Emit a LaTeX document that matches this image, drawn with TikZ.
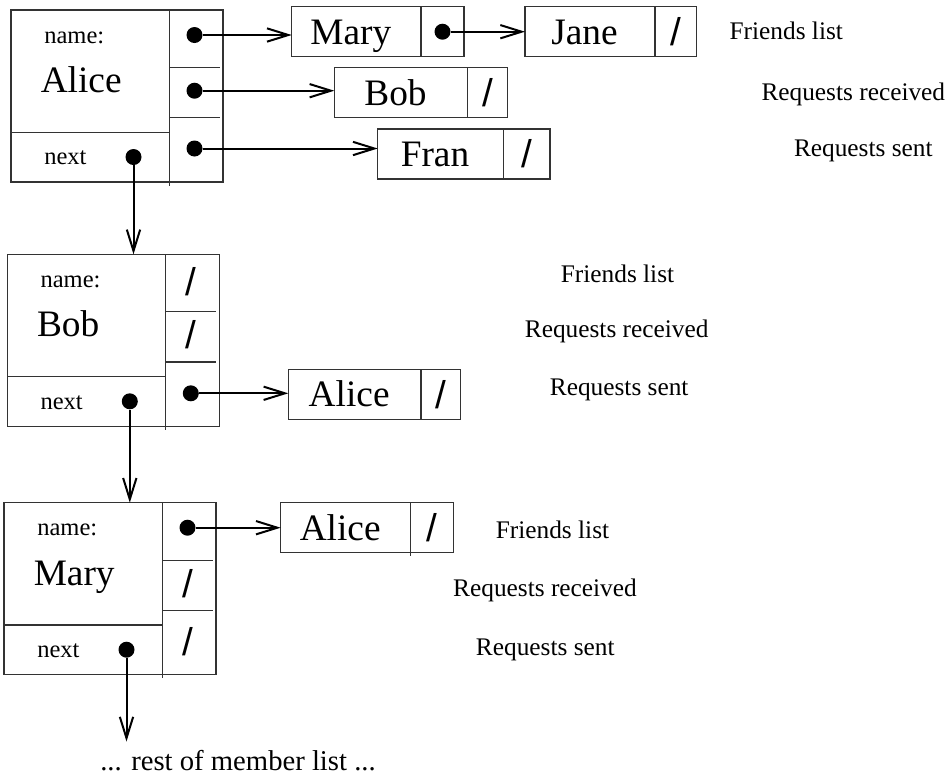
\documentclass[tikz,border=0pt]{standalone}
\usepackage{fontspec}
\setmainfont{Liberation Serif}
\newfontfamily\slashfam{Liberation Sans}
\usetikzlibrary{arrows.meta,calc,fit}
\newcommand\bigfnt{\fontsize{28}{30}\selectfont}
\newcommand\smallfnt{\fontsize{18.4}{20}\selectfont}
\newcommand\labfnt{\fontsize{19}{21}\selectfont}
\newcommand\restfnt{\fontsize{21.5}{23}\selectfont}
\newcommand\slashfnt{\slashfam\fontsize{29}{30}\selectfont}
\tikzset{
  boxline/.style={draw=black!80, line width=0.8pt},
  ptr/.style={line width=1.5pt, -{Straight Barb[length=16pt,width=10pt]}},
  dotn/.style={circle, fill=black, inner sep=0pt, minimum size=12pt},
  slashn/.style={font=\slashfnt, inner sep=0pt},
  bigtxt/.style={font=\bigfnt, inner sep=0pt, anchor=base},
  smalltxt/.style={font=\smallfnt, inner sep=0pt, anchor=base west},
  labtxt/.style={font=\labfnt, inner sep=0pt, anchor=base},
}
% member record frame (coordinates relative to its top-left corner)
\newcommand\memberframe[2]{%
  \node[boxline, rectangle, inner sep=0pt, outer sep=0pt, anchor=north west,
        minimum width=159pt, minimum height=129pt] (#1) at (0,0) {};
  \draw[boxline] (158.4,0) -- (158.4,175.5);
  \draw[boxline] (0,122.3) -- (158.4,122.3);
  \draw[boxline] (158.4,57.5) -- (208.5,57.5);
  \draw[boxline] (158.4,107.7) -- (208.5,107.7);
  \node[smalltxt] (#1-nm) at (33,33) {name:};
  \node[bigtxt, anchor=base west] (#1-name) at (29.5,82.5) {#2};
  \node[smalltxt] (#1-nt) at (33,154.7) {next};
  \node[dotn] (#1-nx) at (122.5,147) {};
}
% list cell: #1 name, #2 left, #3 top, #4 divider, #5 right, #6 text
\newcommand\listcell[6]{%
  \node[boxline, inner sep=0pt, outer sep=0pt, fit={(#2,#3) (#5,#3+50)}] (#1) {};
  \draw[boxline] (#4,#3) -- (#4,#3+50);
  \node[bigtxt] (#1-t) at ({(#2+#4)/2-5.5},#3+37.5) {#6};
  \coordinate (#1-c) at ({(#4+#5)/2},#3+25);
}
\begin{document}
\begin{tikzpicture}[x=0.75pt,y=-0.75pt]
\useasboundingbox (0,0) rectangle (949,776);

% ---- Alice ----
\begin{scope}[shift={(11,10)}]
  \memberframe{alice}{Alice}
  \node[dotn] (alice-p1) at (183.5,25) {};
  \node[dotn] (alice-p2) at (183.5,80.7) {};
  \node[dotn] (alice-p3) at (183.5,138.5) {};
\end{scope}
% ---- Bob ----
\begin{scope}[shift={(7.3,254.3)}]
  \memberframe{bob}{Bob}
  \node[slashn] (bob-s1) at (183.5,27.5) {/};
  \node[slashn] (bob-s2) at (183.5,80.5) {/};
  \node[dotn] (bob-p3) at (183.5,139) {};
\end{scope}
% ---- Mary ----
\begin{scope}[shift={(4,502.7)}]
  \memberframe{mary}{Mary}
  \node[dotn] (mary-p1) at (183.5,25) {};
  \node[slashn] (mary-s2) at (183.5,80.5) {/};
  \node[slashn] (mary-s3) at (183.5,139) {/};
\end{scope}

% ---- list cells ----
\listcell{lmary}{291.7}{6.7}{421}{464}{Mary}
\node[dotn] (lmary-d) at (lmary-c) {};
\listcell{ljane}{525}{6.7}{655}{696.7}{Jane}
\node[slashn] (ljane-s) at (ljane-c) {/};
\listcell{lbob}{334.3}{67.7}{467.7}{507.3}{Bob}
\node[slashn] (lbob-s) at (lbob-c) {/};
\listcell{lfran}{377.7}{129}{503.3}{550}{Fran}
\node[slashn] (lfran-s) at (lfran-c) {/};
\listcell{lalicea}{288.3}{369.3}{421}{460.7}{Alice}
\node[slashn] (lalicea-s) at (lalicea-c) {/};
\listcell{laliceb}{280.7}{502.7}{410.7}{453.3}{Alice}
\node[slashn] (laliceb-s) at (laliceb-c) {/};
\draw[boxline] (410.7,552.3) -- (410.7,556);

% ---- labels ----
\node[labtxt] (la1) at (786.3,39.3) {Friends list};
\node[labtxt] (la2) at (853.3,100) {Requests received};
\node[labtxt] (la3) at (863.3,156.7) {Requests sent};
\node[labtxt] (lb1) at (617.5,282.7) {Friends list};
\node[labtxt] (lb2) at (616.7,337.3) {Requests received};
\node[labtxt] (lb3) at (619.2,395) {Requests sent};
\node[labtxt] (lc1) at (552.5,538.3) {Friends list};
\node[labtxt] (lc2) at (545,596.7) {Requests received};
\node[labtxt] (lc3) at (545.3,655) {Requests sent};

\node[font=\restfnt, inner sep=0pt, anchor=base] (rest) at (238,770) {... rest of member list ...};
\coordinate (restend) at (126.7,741.5);

% ---- pointers ----
\draw[ptr] (alice-p1) -- (alice-p1 -| lmary.west);
\draw[ptr] (alice-p2) -- (alice-p2 -| lbob.west);
\draw[ptr] (alice-p3) -- (alice-p3 -| lfran.west);
\draw[ptr] (lmary-d) -- (lmary-d -| ljane.west);
\draw[ptr] (bob-p3) -- (bob-p3 -| lalicea.west);
\draw[ptr] (mary-p1) -- (mary-p1 -| laliceb.west);
\draw[ptr] (alice-nx) -- (alice-nx |- bob.north);
\draw[ptr] (bob-nx) -- (bob-nx |- mary.north);
\draw[ptr] (mary-nx) -- (mary-nx |- restend);
\end{tikzpicture}
\end{document}
